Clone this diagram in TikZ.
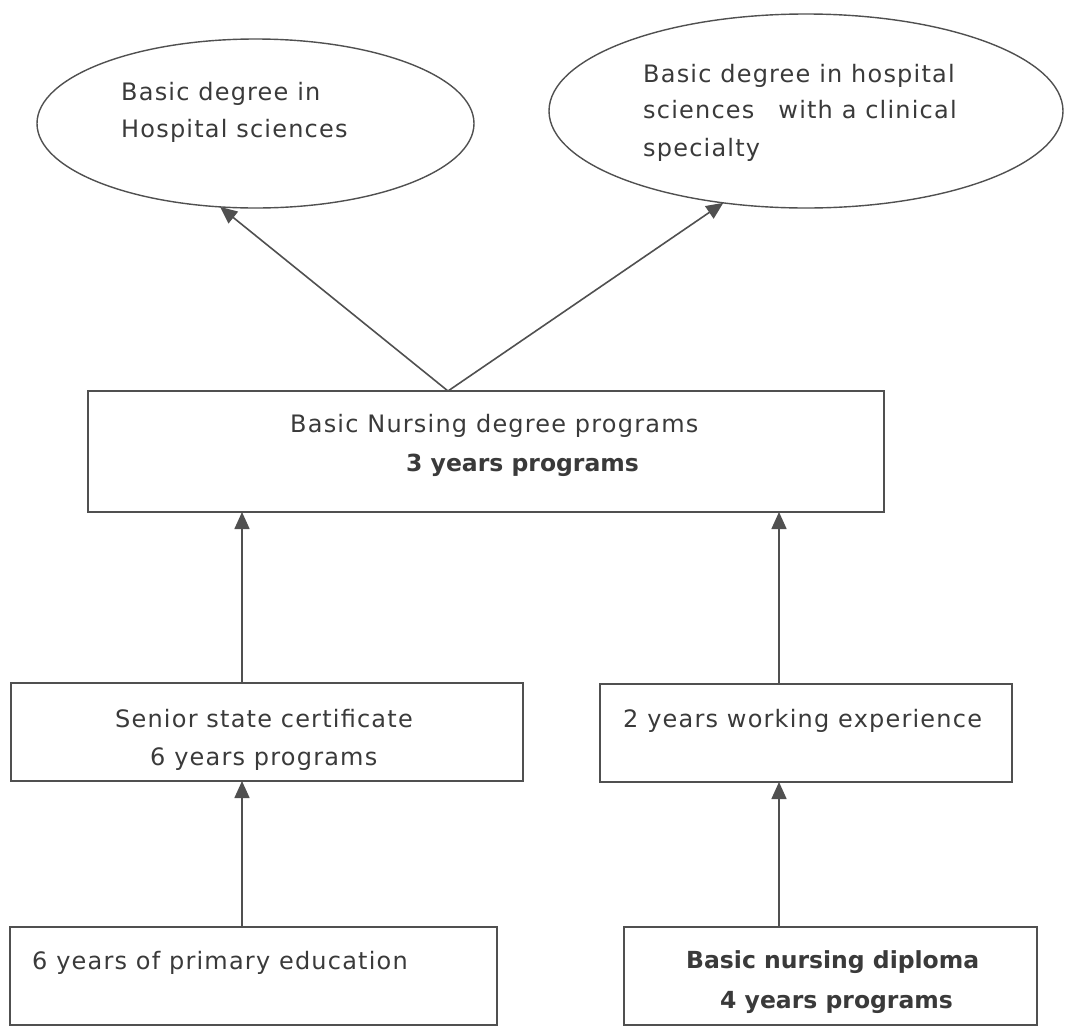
\documentclass[tikz,border=0pt]{standalone}
\usepackage{fontspec}
\setmainfont{DejaVu Sans}
\newfontfamily\bodyfont[LetterSpace=5]{DejaVu Sans}
\usetikzlibrary{arrows.meta,shapes.geometric}
\definecolor{ink}{HTML}{3A3A3A}
\definecolor{edge}{HTML}{505050}
\begin{document}
\begin{tikzpicture}[x=1pt,y=-1pt,
  box/.style={draw=edge,line width=1.6pt,rectangle,inner sep=0pt,outer sep=0pt},
  oval/.style={draw=edge,line width=1.4pt,ellipse,inner sep=0pt,outer sep=0pt},
  lbl/.style={anchor=base west,inner sep=0pt,text=ink,font=\bodyfont\fontsize{24}{28}\selectfont},
  blbl/.style={anchor=base west,inner sep=0pt,text=ink,font=\fontsize{23.5}{28}\selectfont\bfseries},
  arr/.style={draw=edge,line width=1.6pt,-{Triangle[length=17pt,width=15pt]}}]
\useasboundingbox (0,0) rectangle (1065,1034);

% outcome degrees
\node[oval,minimum width=437pt,minimum height=169pt] (hosp) at (255.5,123.5) {};
\node[oval,minimum width=514pt,minimum height=194pt] (clin) at (806,111) {};

% programme boxes
\node[box,minimum width=796pt,minimum height=121pt] (nursing) at (486,451.5) {};
\node[box,minimum width=512pt,minimum height=98pt] (senior) at (267,732) {};
\node[box,minimum width=412pt,minimum height=98pt] (work) at (806,733) {};
\node[box,minimum width=487pt,minimum height=98pt] (primary) at (253.5,976) {};
\node[box,minimum width=413pt,minimum height=98pt] (diploma) at (830.5,976) {};

% labels
\node[lbl] (hospA) at (121,100) {Basic degree in};
\node[lbl] (hospB) at (121,137) {Hospital sciences};
\node[lbl] (clinA) at (643,82) {Basic degree in hospital};
\node[lbl] (clinB) at (643,118) {sciences\hspace{24pt}with a clinical};
\node[lbl] (clinC) at (643,156) {specialty};
\node[lbl] (nursA) at (290,432) {Basic Nursing degree programs};
\node[blbl] (nursB) at (406,471) {3 years programs};
\node[lbl] (senA) at (115,727) {Senior state certificate};
\node[lbl] (senB) at (150,765) {6 years programs};
\node[lbl] (primA) at (32,969) {6 years of primary education};
\node[lbl] (workA) at (623,727) {2 years working experience};
\node[blbl] (dipA) at (686,968) {Basic nursing diploma};
\node[blbl] (dipB) at (720,1008) {4 years programs};

% connectors
\coordinate (fork) at (448,391);
\coordinate (colL) at (242,0);
\coordinate (colR) at (779,0);
\draw[arr] (fork) -- (hosp.247);
\draw[arr] (fork) -- (clin.228);
\draw[arr] (senior.north -| colL) -- (nursing.south -| colL);
\draw[arr] (primary.north -| colL) -- (senior.south -| colL);
\draw[arr] (work.north -| colR) -- (nursing.south -| colR);
\draw[arr] (diploma.north -| colR) -- (work.south -| colR);
\end{tikzpicture}
\end{document}
